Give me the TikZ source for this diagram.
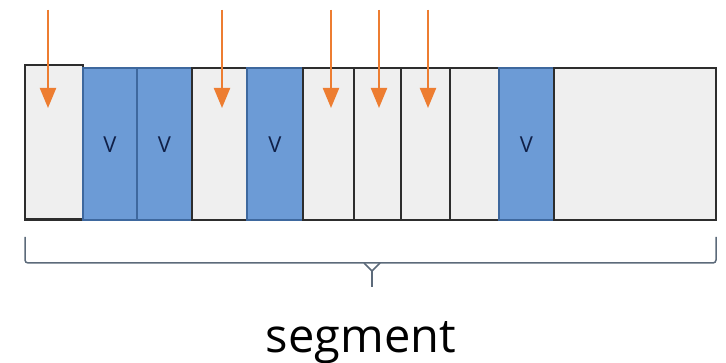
\documentclass[tikz,border=0pt]{standalone}
\usepackage{fontspec}
\setmainfont{Open Sans}
\usetikzlibrary{arrows.meta}
\definecolor{cellblue}{RGB}{108,155,214}
\definecolor{blueedge}{RGB}{62,104,158}
\definecolor{cellgray}{RGB}{239,239,239}
\definecolor{edgedark}{RGB}{45,45,45}
\definecolor{arroworange}{RGB}{237,125,49}
\definecolor{bracegray}{RGB}{92,106,122}
\definecolor{vnavy}{RGB}{16,32,72}
\begin{document}
\begin{tikzpicture}[x=1pt,y=-1pt,
  cellbase/.style={anchor=north west,inner sep=0pt,outer sep=0pt,minimum height=152pt},
  lightcell/.style={cellbase,fill=cellgray,draw=edgedark,line width=1.3pt},
  bluecell/.style={cellbase,fill=cellblue,draw=blueedge,line width=1.3pt},
  vlabel/.style={text=vnavy,font=\fontsize{22}{22}\selectfont,inner sep=0pt},
  orangearrow/.style={draw=arroworange,line width=2.2pt,-{Triangle[width=16pt,length=20pt]}},
  bracestyle/.style={draw=bracegray,line width=1.5pt},
  labeltext/.style={font=\fontsize{47}{47}\selectfont,text=black,inner sep=0pt}]
\useasboundingbox[fill=white] (0,0) rectangle (726,363);
% cells
\node[lightcell,minimum width=58pt,minimum height=155pt] (c1) at (25,65) {};
\draw[edgedark,line width=3pt] (c1.south west) -- (c1.south east);
\node[bluecell,minimum width=54pt] (c2) at (83,68) {};
\node[bluecell,minimum width=55pt] (c3) at (137,68) {};
\node[lightcell,minimum width=55pt] (c4) at (192,68) {};
\node[bluecell,minimum width=56pt] (c5) at (247,68) {};
\node[lightcell,minimum width=51pt] (c6) at (303,68) {};
\node[lightcell,minimum width=47pt] (c7) at (354,68) {};
\node[lightcell,minimum width=49pt] (c8) at (401,68) {};
\node[lightcell,minimum width=49pt] (c9) at (450,68) {};
\node[bluecell,minimum width=55pt] (c10) at (499,68) {};
\node[lightcell,minimum width=162pt] (c11) at (554,68) {};
% V labels
\foreach \c in {c2,c3,c5,c10}
  \node[vlabel] (v\c) at (\c.center |- 0,145) {V};
% arrows
\foreach \i/\x in {1/48,2/222,3/331,4/379,5/428}{
  \coordinate (as\i) at (\x,10);
  \coordinate (ae\i) at (\x,108);
  \draw[orangearrow] (as\i) -- (ae\i);
}
% brace
\coordinate (bl) at (25,237);
\coordinate (blc) at (25,263);
\coordinate (brc) at (716,263);
\coordinate (br) at (716,237);
\coordinate (bt) at (372,287);
\draw[bracestyle,rounded corners=3pt] (bl) -- (blc) -- (brc) -- (br);
\draw[bracestyle] (364,263) -- (372,271) -- (380,263);
\draw[bracestyle] (372,270) -- (bt);
% label
\node[labeltext,anchor=base] (seg) at (361,353) {segment};
\end{tikzpicture}
\end{document}
